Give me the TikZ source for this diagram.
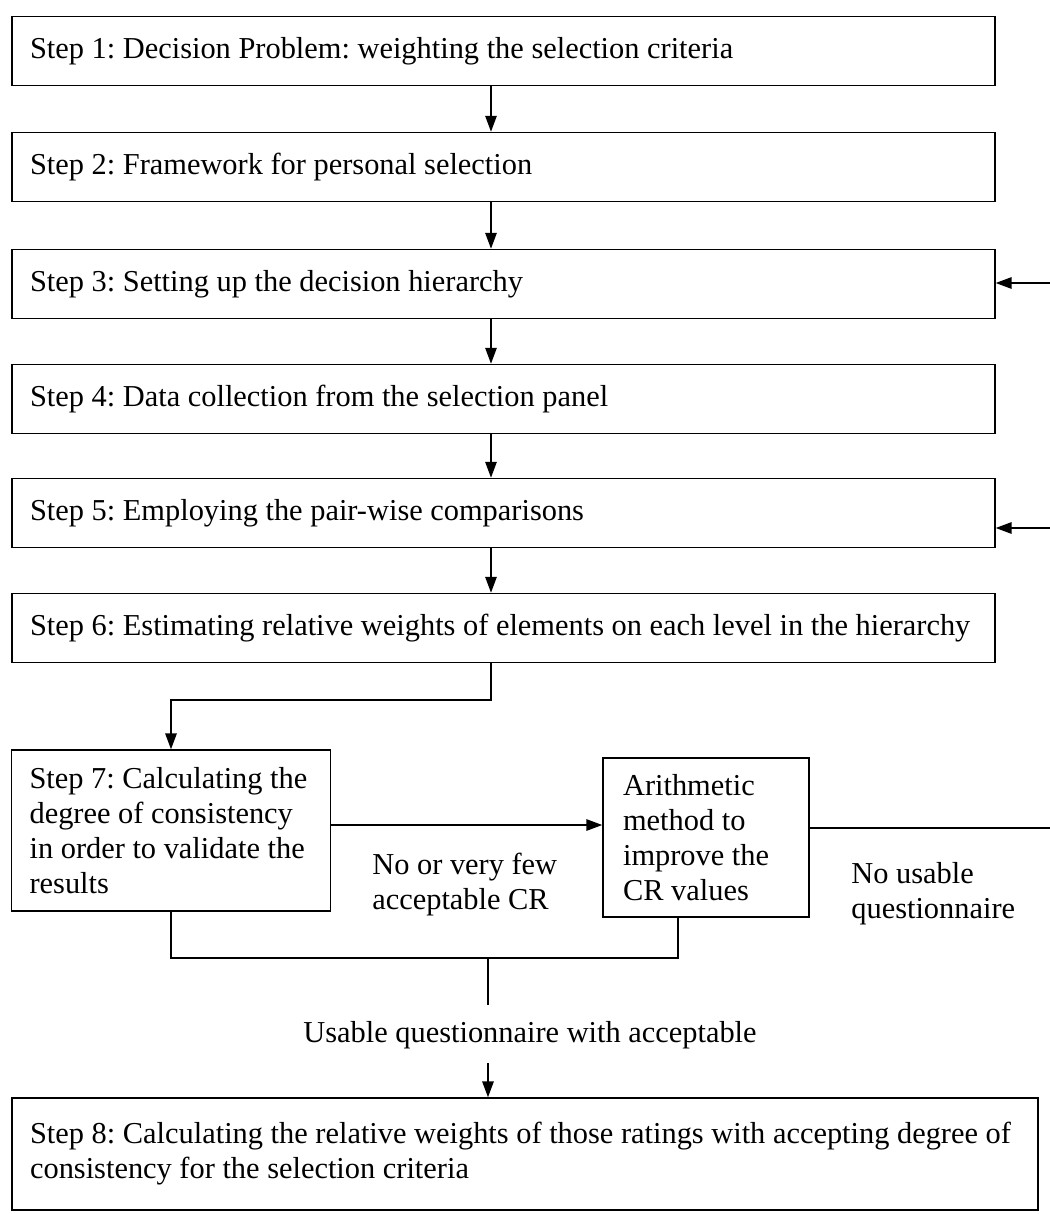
\documentclass[tikz,border=0pt]{standalone}
\usepackage{fontspec}
\setmainfont{Liberation Serif}
\usetikzlibrary{arrows.meta}
\begin{document}
\frenchspacing
\begin{tikzpicture}[x=0.02cm, y=-0.02cm,
  txt/.style={font=\fontsize{17.3}{19.9}\selectfont\frenchspacing},
  box/.style={txt, draw, line width=0.9pt, rectangle, inner xsep=10.2pt, inner ysep=0pt, align=left,
    execute at begin node={\spaceskip=0pt\xspaceskip=0pt}},
  wide/.style={box, minimum width=559.4pt, minimum height=39.3pt, text width=539pt},
  conn/.style={line width=0.8pt},
  arr/.style={conn, -{Triangle[length=9pt,width=6.5pt]}},
  lbl/.style={txt, inner sep=0pt, align=left, execute at begin node={\spaceskip=0pt\xspaceskip=0pt}}]
\useasboundingbox (0,0) rectangle (1050,1214);

% main step boxes
\node[wide] (s1) at (503.5,51) {\mbox{Step 1: Decision Problem: weighting the selection criteria}};
\node[wide] (s2) at (503.5,167) {\mbox{Step 2: Framework for personal selection}};
\node[wide] (s3) at (503.5,284) {\mbox{Step 3: Setting up the decision hierarchy}};
\node[wide] (s4) at (503.5,399) {\mbox{Step 4: Data collection from the selection panel}};
\node[wide] (s5) at (503.5,513) {\mbox{Step 5: Employing the pair-wise comparisons}};
\node[wide] (s6) at (503.5,628) {\mbox{Step 6: Estimating relative weights of elements on each level in the hierarchy}};
\node[box, minimum width=181pt, minimum height=91.6pt, text width=161pt] (s7) at (171,830.5)
  {\mbox{Step 7: Calculating the}\\\mbox{degree of consistency}\\\mbox{in order to validate the}\\\mbox{results}};
\node[box, inner xsep=11.4pt, minimum width=117.2pt, minimum height=90.5pt, text width=94.4pt] (ar) at (706,837.5)
  {\mbox{Arithmetic}\\\mbox{method to}\\\mbox{improve the}\\\mbox{CR values}};
\node[box, minimum width=583.8pt, minimum height=63.7pt, text width=563.4pt] (s8) at (525,1154)
  {\mbox{Step 8: Calculating the relative weights of those ratings with accepting degree of}\\\mbox{consistency for the selection criteria}};

% labels
\node[lbl, anchor=west] (lnf) at (372,884.5) {No or very few\\acceptable CR};
\node[lbl, anchor=west] (lnu) at (851,893.5) {No usable\\questionnaire};
\node[lbl] (lus) at (530,1035) {Usable questionnaire with acceptable};

% helper coordinates
\coordinate (col) at (491,0);
\coordinate (e2) at (171,700);
\coordinate (ya) at (0,825);
\coordinate (redge) at (1050,828);
\coordinate (r3) at (1050,283);
\coordinate (r5) at (1050,528);
\coordinate (b1) at (171,958);
\coordinate (b2) at (678,958);
\coordinate (j) at (488,958);
\coordinate (j2) at (488,1005);
\coordinate (j3) at (488,1063);

% vertical flow
\draw[arr] (s1.south -| col) -- (s2.north -| col);
\draw[arr] (s2.south -| col) -- (s3.north -| col);
\draw[arr] (s3.south -| col) -- (s4.north -| col);
\draw[arr] (s4.south -| col) -- (s5.north -| col);
\draw[arr] (s5.south -| col) -- (s6.north -| col);
\draw[arr] (s6.south -| col) -- (col |- e2) -- (e2) -- (s7.north);

% step 7 to arithmetic and feedback
\draw[arr] (s7.east |- ya) -- (ar.west |- ya);
\draw[conn] (ar.east |- redge) -- (redge);
\draw[arr] (r3) -- (s3.east |- r3);
\draw[arr] (r5) -- (s5.east |- r5);

% merge to step 8
\draw[conn] (s7.south) -- (b1) -- (b2) -- (ar.south -| b2);
\draw[conn] (j) -- (j2);
\draw[arr] (j3) -- (s8.north -| j3);
\end{tikzpicture}
\end{document}
